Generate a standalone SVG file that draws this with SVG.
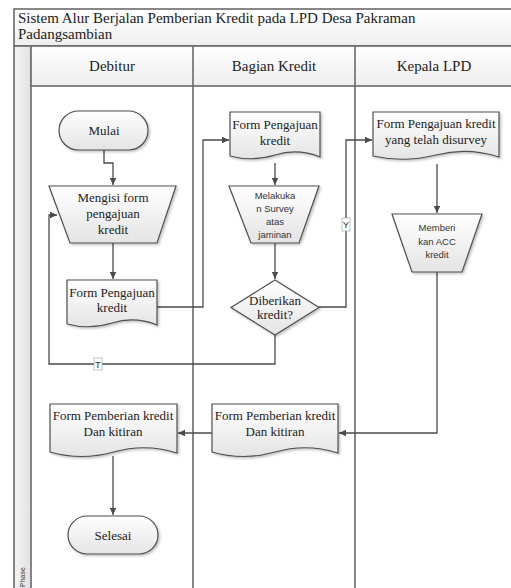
<svg xmlns="http://www.w3.org/2000/svg" width="511" height="588" viewBox="0 0 511 588">
<defs>
<linearGradient id="g" x1="0" y1="0" x2="0" y2="1"><stop offset="0" stop-color="#ffffff"/><stop offset="1" stop-color="#e4e4e4"/></linearGradient>
<linearGradient id="gh" x1="0" y1="0" x2="0" y2="1"><stop offset="0" stop-color="#ffffff"/><stop offset="1" stop-color="#eeeeee"/></linearGradient>
<linearGradient id="gv" x1="0" y1="0" x2="1" y2="0"><stop offset="0" stop-color="#f4f4f4"/><stop offset="1" stop-color="#e2e2e2"/></linearGradient>
<filter id="sh" x="-10%" y="-10%" width="130%" height="130%"><feDropShadow dx="1.5" dy="1.5" stdDeviation="1" flood-color="#000" flood-opacity="0.25"/></filter>
<marker id="ah" markerWidth="8" markerHeight="8" refX="7" refY="4" orient="auto" markerUnits="userSpaceOnUse"><path d="M0,0.8 L7,4 L0,7.2 Z" fill="#4a4a4a"/></marker>
</defs>
<style>
.shape{fill:url(#g);stroke:#4f4f4f;stroke-width:1.2;filter:url(#sh)}
.lane{fill:none;stroke:#6a6a6a;stroke-width:1.6}
.conn{fill:none;stroke:#4a4a4a;stroke-width:1.3;marker-end:url(#ah)}
.t{font-family:'Liberation Serif',serif;font-size:13px;fill:#222;text-anchor:middle}
.s{font-family:'Liberation Sans',sans-serif;font-size:9.5px;fill:#333;text-anchor:middle}
.h{font-family:'Liberation Serif',serif;font-size:15px;fill:#222;text-anchor:middle}
.ttl{font-family:'Liberation Serif',serif;font-size:15px;fill:#222}
.lbl{fill:#fff;stroke:#999;stroke-width:0.6}
</style>
<rect width="511" height="588" fill="#fff"/>
<g id="pool">
<rect x="14" y="9" width="500" height="37" fill="url(#gh)" stroke="#6a6a6a" stroke-width="1.6"/>
<text class="ttl" x="18" y="23">Sistem Alur Berjalan Pemberian Kredit pada LPD Desa Pakraman</text>
<text class="ttl" x="18" y="39">Padangsambian</text>
<rect x="14" y="46" width="17" height="545" fill="url(#gv)" stroke="#6a6a6a" stroke-width="1.6"/>
<text font-family="'Liberation Sans',sans-serif" font-size="7px" fill="#333" transform="translate(25,587) rotate(-90)">Phase</text>
<rect x="31" y="46" width="483" height="40" fill="url(#gh)" stroke="#6a6a6a" stroke-width="1.6"/>
<line class="lane" x1="193" y1="46" x2="193" y2="590"/>
<line class="lane" x1="355" y1="46" x2="355" y2="590"/>
<text class="h" x="112" y="71">Debitur</text>
<text class="h" x="274" y="71">Bagian Kredit</text>
<text class="h" x="434" y="71">Kepala LPD</text>
</g>
<g id="connectors">
<path class="conn" d="M104,150 V163 H113 V185"/>
<path class="conn" d="M113,243 V279"/>
<path class="conn" d="M157,307 H203 V140 H229"/>
<path class="conn" d="M275,163 V185"/>
<path class="conn" d="M275,243 V279"/>
<path class="conn" d="M319,307 H346 V140 H372"/>
<path class="conn" d="M275,335 V364 H49 V215 H57"/>
<path class="conn" d="M437,164 V213"/>
<path class="conn" d="M437,272 V433 H339"/>
<path class="conn" d="M212,433 H178"/>
<path class="conn" d="M113,456 V515"/>
<rect class="lbl" x="342" y="218" width="8" height="13"/>
<text class="s" x="346" y="228" font-size="9px">Y</text>
<rect class="lbl" x="94" y="358" width="8" height="12"/>
<text class="s" x="98" y="368" font-size="9px">T</text>
</g>
<g id="mulai">
<rect class="shape" x="59" y="111" width="89" height="39" rx="19.5"/>
<text class="t" x="104" y="135" font-size="14px">Mulai</text>
</g>
<g id="mengisi">
<path class="shape" d="M49,186 H176 L157,243 H70 Z"/>
<text class="t" x="113" y="202">Mengisi form</text>
<text class="t" x="113" y="218">pengajuan</text>
<text class="t" x="113" y="234">kredit</text>
</g>
<g id="form1">
<path class="shape" d="M67,280 H157 V325 Q134.5,316 112,323 T67,324 Z"/>
<text class="t" x="112" y="297">Form Pengajuan</text>
<text class="t" x="112" y="312">kredit</text>
</g>
<g id="form2">
<path class="shape" d="M230,112 H320 V157 Q297.5,148 275,155 T230,156 Z"/>
<text class="t" x="275" y="129" font-size="14px">Form Pengajuan</text>
<text class="t" x="275" y="145" font-size="14px">kredit</text>
</g>
<g id="survey">
<path class="shape" d="M229,186 H319 L299,243 H251 Z"/>
<text class="s" x="275" y="199">Melakuka</text>
<text class="s" x="275" y="212">n Survey</text>
<text class="s" x="275" y="225">atas</text>
<text class="s" x="275" y="238">jaminan</text>
</g>
<g id="decision">
<path class="shape" d="M275,280 L319,307.5 L275,335 L231,307.5 Z"/>
<text class="t" x="275" y="305" font-size="11px">Diberikan</text>
<text class="t" x="275" y="319" font-size="11px">kredit?</text>
</g>
<g id="form3">
<path class="shape" d="M373,112 H499 V157 Q467.5,147 436,155 T373,156 Z"/>
<text class="t" x="436" y="128">Form Pengajuan kredit</text>
<text class="t" x="436" y="144">yang telah disurvey</text>
</g>
<g id="acc">
<path class="shape" d="M392,214 H482 L462,272 H412 Z"/>
<text class="s" x="437" y="231">Memberi</text>
<text class="s" x="437" y="245">kan ACC</text>
<text class="s" x="437" y="258">kredit</text>
</g>
<g id="form4">
<path class="shape" d="M212,404 H338 V453 Q306.5,443 275,452 T212,452 Z"/>
<text class="t" x="275" y="420">Form Pemberian kredit</text>
<text class="t" x="275" y="436">Dan kitiran</text>
</g>
<g id="form5">
<path class="shape" d="M50,404 H177 V453 Q145.5,443 113.5,452 T50,452 Z"/>
<text class="t" x="113" y="420">Form Pemberian kredit</text>
<text class="t" x="113" y="436">Dan kitiran</text>
</g>
<g id="selesai">
<rect class="shape" x="68" y="516" width="90" height="38" rx="19"/>
<text class="t" x="113" y="540">Selesai</text>
</g>
</svg>
